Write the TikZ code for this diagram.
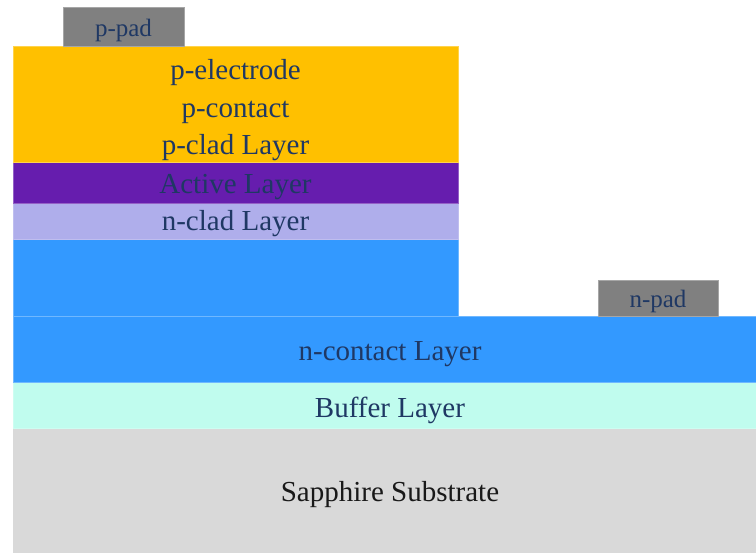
\documentclass[tikz,border=0pt]{standalone}
\usepackage{fontspec}
\setmainfont{Liberation Serif}
\definecolor{navytxt}{HTML}{1F3864}
\definecolor{padgray}{HTML}{808080}
\definecolor{orangel}{HTML}{FFC000}
\definecolor{activel}{HTML}{661DAE}
\definecolor{ncladl}{HTML}{AFAEEB}
\definecolor{bluel}{HTML}{3399FF}
\definecolor{bufferl}{HTML}{C0FCEE}
\definecolor{sapphl}{HTML}{D9D9D9}
\tikzset{
  layer/.style={line width=0.8pt},
  bigtext/.style={text=navytxt, font=\fontsize{29}{37.5}\selectfont, inner sep=0pt, align=center},
  padtext/.style={text=navytxt, font=\fontsize{25}{30}\selectfont, inner sep=0pt},
}
\begin{document}
\begin{tikzpicture}[x=1pt,y=-1pt]
\useasboundingbox (0,0) rectangle (756,553);
% substrate and buffer
\fill[sapphl] (13,428) rectangle (756,553);
\filldraw[layer, fill=bufferl, draw=bufferl!80!white] (13,382) rectangle (756,428);
% n-contact layer with etched mesa on top
\filldraw[layer, fill=bluel, draw=bluel!70!white] (13,316) rectangle (756,382);
\filldraw[layer, fill=bluel, draw=bluel!70!white] (13,239) rectangle (458,316);
% upper stack
\filldraw[layer, fill=ncladl, draw=ncladl!80!white] (13,203) rectangle (458,239);
\filldraw[layer, fill=activel, draw=activel!70!white] (13,162) rectangle (458,203);
\filldraw[layer, fill=orangel, draw=orangel!70!white] (13,46) rectangle (458,162);
% contact pads
\filldraw[layer, fill=padgray, draw=padgray!70!white] (63,7) rectangle (184,46);
\filldraw[layer, fill=padgray, draw=padgray!70!white] (598,280) rectangle (718,316);
% labels
\node[padtext] (ppad) at (123.5,30) {p-pad};
\node[padtext] (npad) at (658,301) {n-pad};
\node[bigtext] (pstack) at (235.5,110.5) {p-electrode\\p-contact\\p-clad Layer};
\node[bigtext] (active) at (235.5,187) {Active Layer};
\node[bigtext] (nclad) at (235.5,224) {n-clad Layer};
\node[bigtext] (ncont) at (390,354) {n-contact Layer};
\node[bigtext] (buffer) at (390,410) {Buffer Layer};
\node[bigtext, text=black!90] (sapph) at (390,495) {Sapphire Substrate};
\end{tikzpicture}
\end{document}
